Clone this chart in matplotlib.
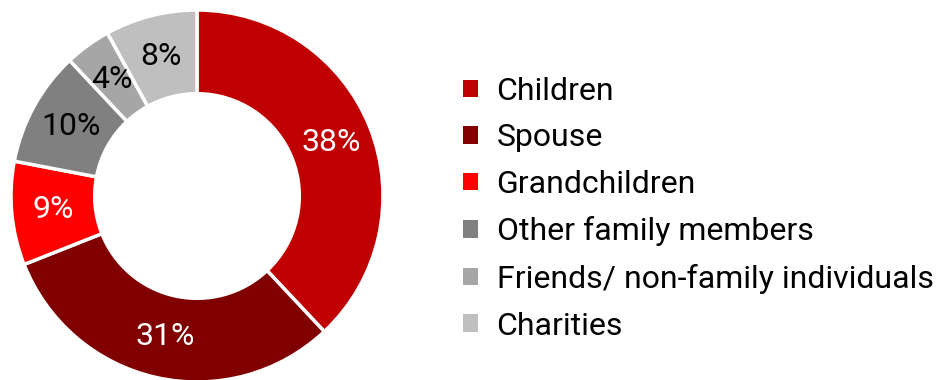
import matplotlib
matplotlib.use('Agg')
import matplotlib.pyplot as plt
from matplotlib.patches import Patch

plt.rcParams['font.family'] = ['Roboto', 'DejaVu Sans']

# Data
labels = ["Children", "Spouse", "Grandchildren", "Other family members",
          "Friends/ non-family individuals", "Charities"]
shares = [38, 31, 9, 10, 4, 8]
colors = ["#C00000", "#800000", "#FF0000", "#808080", "#A6A6A6", "#BFBFBF"]
text_colors = ["white", "white", "white", "black", "black", "black"]

fig = plt.figure(figsize=(9.4, 3.8), dpi=100)
ax = fig.add_axes([11 / 940, -2 / 380, 372 / 940, 372 / 380])

wedges, texts, autotexts = ax.pie(
    shares, colors=colors, startangle=90, counterclock=False,
    autopct=lambda p: f"{p:.0f}%", pctdistance=0.775, radius=1,
    wedgeprops=dict(width=0.45, edgecolor="white", linewidth=2.5),
    textprops=dict(fontsize=23))
for t, c in zip(autotexts, text_colors):
    t.set_color(c)
ax.set_xlim(-1, 1)
ax.set_ylim(-1, 1)
ax.set_aspect("equal")

handles = [Patch(facecolor=c, edgecolor="none") for c in colors]
fig.legend(handles, labels, loc="upper left", bbox_to_anchor=(0.4926, 0.798),
           frameon=False, handlelength=0.47, handleheight=0.47,
           handletextpad=0.58, labelspacing=0.55, borderpad=0, borderaxespad=0,
           prop=dict(family=['Roboto', 'DejaVu Sans'], size=23))

plt.savefig("out.png", dpi=100)
plt.close()
